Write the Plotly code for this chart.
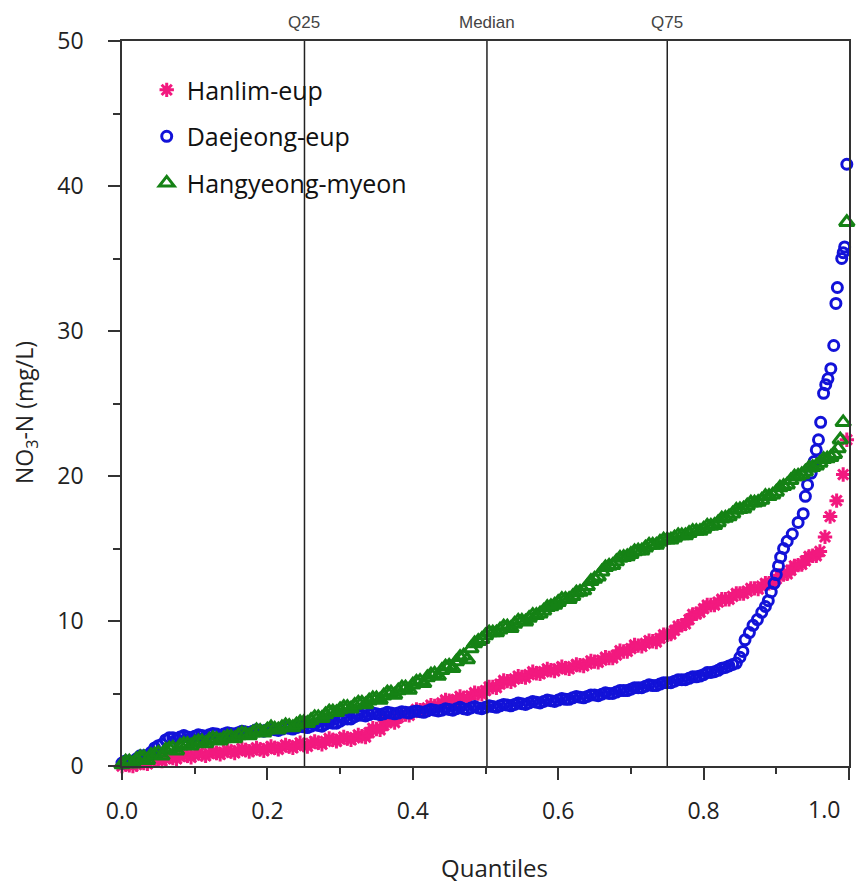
import plotly.graph_objects as go

# ---- data ----
quantiles = [0.00, 0.01, 0.02, 0.03, 0.04, 0.05, 0.06, 0.07, 0.08, 0.09,
             0.10, 0.11, 0.12, 0.13, 0.14, 0.15, 0.16, 0.17, 0.18, 0.19,
             0.20, 0.21, 0.22, 0.23, 0.24, 0.25, 0.26, 0.27, 0.28, 0.29,
             0.30, 0.31, 0.32, 0.33, 0.34, 0.35, 0.36, 0.37, 0.38, 0.39,
             0.40, 0.41, 0.42, 0.43, 0.44, 0.45, 0.46, 0.47, 0.48, 0.49,
             0.50, 0.51, 0.52, 0.53, 0.54, 0.55, 0.56, 0.57, 0.58, 0.59,
             0.60, 0.61, 0.62, 0.63, 0.64, 0.65, 0.66, 0.67, 0.68, 0.69,
             0.70, 0.71, 0.72, 0.73, 0.74, 0.75, 0.76, 0.77, 0.78, 0.79,
             0.80, 0.81, 0.82, 0.83, 0.84, 0.85, 0.86, 0.87, 0.88, 0.89,
             0.90, 0.91, 0.92, 0.93, 0.94, 0.95, 0.96, 0.97, 0.98]
quantiles_mid = [0.005, 0.015, 0.025, 0.035, 0.045, 0.055, 0.065, 0.075, 0.085, 0.095,
                 0.105, 0.115, 0.125, 0.135, 0.145, 0.155, 0.165, 0.175, 0.185, 0.195,
                 0.205, 0.215, 0.225, 0.235, 0.245, 0.255, 0.265, 0.275, 0.285, 0.295,
                 0.305, 0.315, 0.325, 0.335, 0.345, 0.355, 0.365, 0.375, 0.385, 0.395,
                 0.405, 0.415, 0.425, 0.435, 0.445, 0.455, 0.465, 0.475, 0.485, 0.495,
                 0.505, 0.515, 0.525, 0.535, 0.545, 0.555, 0.565, 0.575, 0.585, 0.595,
                 0.605, 0.615, 0.625, 0.635, 0.645, 0.655, 0.665, 0.675, 0.685, 0.695,
                 0.705, 0.715, 0.725, 0.735, 0.745, 0.755, 0.765, 0.775, 0.785, 0.795,
                 0.805, 0.815, 0.825, 0.835, 0.845, 0.855, 0.865, 0.875, 0.885, 0.895,
                 0.905, 0.915, 0.925, 0.935, 0.945, 0.955, 0.965, 0.975]

hanlim_body = [0.0, 0.05, 0.1, 0.2, 0.3, 0.4, 0.5, 0.55, 0.65, 0.7,
               0.75, 0.8, 0.85, 0.9, 0.95, 1.0, 1.05, 1.1, 1.1, 1.15,
               1.2, 1.25, 1.3, 1.35, 1.4, 1.45, 1.55, 1.6, 1.7, 1.8,
               1.85, 1.9, 1.95, 2.05, 2.3, 2.55, 2.8, 3.1, 3.35, 3.55,
               3.7, 3.85, 4.0, 4.15, 4.35, 4.5, 4.6, 4.7, 4.85, 5.0,
               5.2, 5.45, 5.65, 5.85, 6.0, 6.15, 6.3, 6.4, 6.5, 6.6,
               6.7, 6.75, 6.85, 6.95, 7.05, 7.2, 7.3, 7.45, 7.65, 7.9,
               8.1, 8.3, 8.45, 8.6, 8.8, 9.05, 9.35, 9.7, 10.1, 10.5,
               10.85, 11.1, 11.3, 11.5, 11.7, 11.9, 12.05, 12.25, 12.4, 12.6,
               12.9, 13.2, 13.5, 13.85, 14.15, 14.5, 14.8]
hanlim_mid = [0.1, 0.0, 0.25, 0.15, 0.45, 0.35, 0.65, 0.5, 0.8, 0.6,
              0.9, 0.7, 1.0, 0.8, 1.1, 0.9, 1.2, 1.0, 1.25, 1.05,
              1.35, 1.15, 1.45, 1.25, 1.6, 1.35, 1.7, 1.5, 1.9, 1.7,
              2.0, 1.8, 2.15, 2.0, 2.6, 2.5, 3.1, 3.0, 3.6, 3.5,
              3.9, 3.8, 4.2, 4.1, 4.55, 4.45, 4.8, 4.65, 5.05, 4.95,
              5.45, 5.4, 5.9, 5.8, 6.2, 6.1, 6.5, 6.35, 6.7, 6.55,
              6.85, 6.7, 7.0, 6.9, 7.25, 7.15, 7.5, 7.45, 7.95, 7.9,
              8.35, 8.25, 8.65, 8.55, 9.05, 9.1, 9.65, 9.8, 10.45, 10.6,
              11.1, 11.1, 11.5, 11.5, 11.9, 11.9, 12.25, 12.2, 12.6, 12.65,
              13.15, 13.25, 13.8, 13.9, 14.45, 14.5]
hanlim_tail_q = [0.967, 0.974, 0.983, 0.992, 0.997]
hanlim_tail = [15.8, 17.2, 18.3, 20.1, 22.5]

daejeong_body = [0.2, 0.35, 0.5, 0.7, 0.95, 1.4, 1.8, 1.95, 2.0, 2.0,
                 2.05, 2.1, 2.15, 2.2, 2.2, 2.25, 2.3, 2.35, 2.4, 2.45,
                 2.5, 2.5, 2.55, 2.6, 2.65, 2.7, 2.75, 2.8, 2.9, 2.95,
                 3.1, 3.25, 3.4, 3.5, 3.55, 3.6, 3.6, 3.65, 3.65, 3.7,
                 3.75, 3.75, 3.8, 3.85, 3.85, 3.9, 3.95, 3.95, 4.0, 4.0,
                 4.05, 4.1, 4.15, 4.2, 4.25, 4.3, 4.35, 4.4, 4.45, 4.5,
                 4.55, 4.6, 4.7, 4.75, 4.8, 4.9, 4.95, 5.0, 5.1, 5.2,
                 5.3, 5.4, 5.5, 5.55, 5.65, 5.75, 5.85, 5.95, 6.05, 6.15,
                 6.3, 6.45, 6.6, 6.8, 7.0]
daejeong_mid = [0.35, 0.3, 0.7, 0.7, 1.25, 1.5, 1.95, 1.85, 2.1, 1.95,
                2.15, 2.05, 2.25, 2.1, 2.3, 2.2, 2.4, 2.3, 2.5, 2.4,
                2.6, 2.45, 2.65, 2.55, 2.75, 2.65, 2.85, 2.75, 3.0, 2.95,
                3.25, 3.25, 3.5, 3.45, 3.65, 3.55, 3.7, 3.6, 3.75, 3.65,
                3.8, 3.7, 3.9, 3.8, 3.95, 3.85, 4.05, 3.9, 4.1, 3.95,
                4.15, 4.05, 4.25, 4.15, 4.35, 4.25, 4.45, 4.35, 4.55, 4.45,
                4.65, 4.6, 4.8, 4.7, 4.9, 4.85, 5.05, 5.0, 5.2, 5.2,
                5.4, 5.4, 5.6, 5.55, 5.75, 5.75, 5.95, 5.95, 6.15, 6.2,
                6.45, 6.5, 6.75, 6.9]
daejeong_tail_q = [0.845, 0.850, 0.854, 0.857, 0.863, 0.868, 0.874, 0.880, 0.885, 0.889,
                   0.893, 0.897, 0.900, 0.903, 0.906, 0.910, 0.915, 0.922, 0.930, 0.937,
                   0.940, 0.943, 0.948, 0.952, 0.955, 0.958, 0.961, 0.965, 0.968, 0.971,
                   0.975, 0.979, 0.982, 0.984, 0.990, 0.992, 0.994, 0.997]
daejeong_tail = [7.1, 7.5, 7.9, 8.7, 9.2, 9.7, 10.1, 10.6, 11.0, 11.4,
                 12.0, 12.6, 13.2, 13.8, 14.4, 15.0, 15.5, 16.0, 16.8, 17.4,
                 18.6, 19.4, 20.2, 21.0, 21.8, 22.5, 23.7, 25.7, 26.3, 26.7,
                 27.4, 29.0, 31.9, 33.0, 35.0, 35.4, 35.8, 41.5]

hangyeong_body = [0.1, 0.3, 0.45, 0.6, 0.75, 0.9, 1.1, 1.25, 1.4, 1.5,
                  1.6, 1.7, 1.8, 1.85, 1.9, 2.0, 2.1, 2.2, 2.3, 2.4,
                  2.5, 2.55, 2.65, 2.75, 2.85, 3.0, 3.15, 3.35, 3.55, 3.75,
                  3.9, 4.05, 4.2, 4.35, 4.5, 4.65, 4.85, 5.05, 5.2, 5.4,
                  5.6, 5.85, 6.1, 6.35, 6.6, 6.9, 7.2, 7.6, 8.1, 8.6,
                  9.0, 9.2, 9.4, 9.6, 9.8, 10.0, 10.2, 10.4, 10.7, 11.0,
                  11.3, 11.5, 11.7, 12.0, 12.4, 12.9, 13.4, 13.8, 14.1, 14.4,
                  14.6, 14.85, 15.05, 15.25, 15.45, 15.6, 15.75, 15.9, 16.05, 16.2,
                  16.35, 16.55, 16.8, 17.1, 17.4, 17.7, 17.95, 18.15, 18.35, 18.6,
                  18.9, 19.3, 19.7, 20.0, 20.3, 20.6, 20.9, 21.2, 21.5]
hangyeong_mid = [0.3, 0.15, 0.6, 0.4, 0.8, 0.7, 1.2, 1.05, 1.5, 1.4,
                 1.7, 1.55, 1.9, 1.75, 2.0, 1.9, 2.25, 2.1, 2.45, 2.3,
                 2.65, 2.5, 2.8, 2.65, 3.0, 2.95, 3.35, 3.3, 3.75, 3.7,
                 4.05, 3.95, 4.35, 4.25, 4.65, 4.55, 5.05, 4.9, 5.4, 5.25,
                 5.8, 5.7, 6.3, 6.2, 6.85, 6.75, 7.5, 7.35, 8.45, 8.75,
                 9.2, 9.2, 9.6, 9.5, 10.0, 9.95, 10.4, 10.5, 10.95, 11.1,
                 11.5, 11.5, 11.95, 12.1, 12.75, 13.05, 13.7, 13.85, 14.35, 14.45,
                 14.8, 14.85, 15.25, 15.25, 15.6, 15.6, 15.9, 15.9, 16.2, 16.2,
                 16.55, 16.6, 17.05, 17.2, 17.65, 17.75, 18.15, 18.2, 18.6, 18.7,
                 19.2, 19.4, 19.95, 20.1, 20.55, 20.7, 21.15, 21.3]
hangyeong_tail_q = [0.985, 0.988, 0.992, 0.997]
hangyeong_tail = [21.9, 22.5, 23.7, 37.5]

ref_lines = [0.251, 0.502, 0.750]
ref_labels = ["Q25", "Median", "Q75"]

x_ticks = [0.0, 0.2, 0.4, 0.6, 0.8, 1.0]
x_ticklabels = ["0.0", "0.2", "0.4", "0.6", "0.8", ""]
y_ticks = [0, 10, 20, 30, 40, 50]

# ---- figure ----
fig = go.Figure()

series = [
    ("Hanlim-eup", hanlim_body, hanlim_mid, hanlim_tail_q, hanlim_tail,
     "asterisk-open", "#F2197F", 12, 3),
    ("Daejeong-eup", daejeong_body, daejeong_mid, daejeong_tail_q, daejeong_tail,
     "circle-open", "#1212D8", 10, 3),
    ("Hangyeong-myeon", hangyeong_body, hangyeong_mid, hangyeong_tail_q, hangyeong_tail,
     "triangle-up-open", "#158215", 13, 3),
]
for name, body, mid, tq, tv, sym, col, size, lw in series:
    pts = sorted(zip(quantiles[:len(body)] + quantiles_mid[:len(mid)] + tq, body + mid + tv))
    xs = [p[0] for p in pts]
    ys = [p[1] for p in pts]
    fig.add_trace(go.Scatter(
        x=xs, y=ys, mode="markers", name=name, legendgroup=name,
        cliponaxis=False,
        marker=dict(symbol=sym, size=size, color=col,
                    line=dict(color=col, width=lw)),
    ))

for q, lab in zip(ref_lines, ref_labels):
    fig.add_shape(type="line", x0=q, x1=q, y0=0, y1=1, xref="x", yref="paper",
                  line=dict(color="#222222", width=1.5), layer="above")
    fig.add_annotation(x=q, y=1, xref="x", yref="paper", text=lab, showarrow=False,
                       yanchor="middle", yshift=19,
                       font=dict(family="Liberation Sans, Arial", size=17, color="#444444"))

fig.add_annotation(x=0.990, y=0, xref="paper", yref="paper", text="1.0",
                   showarrow=False, yanchor="middle", yshift=-43,
                   font=dict(family="Open Sans", size=23, color="#222222"))
fig.add_annotation(x=0.513, y=-0.140, xref="paper", yref="paper", text="Quantiles",
                   showarrow=False, yanchor="middle",
                   font=dict(family="Open Sans", size=24, color="#222222"))
fig.add_annotation(x=-0.132, y=0.487, xref="paper", yref="paper",
                   text="NO<sub>3</sub>-N (mg/L)", textangle=-90,
                   showarrow=False, xanchor="center", yanchor="middle",
                   font=dict(family="Open Sans", size=23, color="#222222"))

axis_common = dict(showgrid=False, zeroline=False, showline=True, mirror=True,
                   linecolor="#333333", linewidth=1.5, ticks="outside",
                   tickcolor="#333333", tickwidth=1.5, ticklen=12,
                   tickfont=dict(family="Open Sans", size=23, color="#222222"))

fig.update_xaxes(range=[0, 1], tickvals=x_ticks, ticktext=x_ticklabels,
                 ticklabelstandoff=12,
                 minor=dict(tickvals=[0.1, 0.3, 0.5, 0.7, 0.9], ticklen=6,
                            tickcolor="#333333", tickwidth=1.5, ticks="outside"),
                 **axis_common)
fig.update_yaxes(range=[0, 50], tickvals=y_ticks,
                 ticklabelstandoff=20,
                 minor=dict(tickvals=[5, 15, 25, 35, 45], ticklen=7,
                            tickcolor="#333333", tickwidth=1.5, ticks="outside"),
                 **axis_common)

fig.update_layout(
    width=862, height=886,
    margin=dict(l=122, r=13, t=41, b=120),
    paper_bgcolor="white", plot_bgcolor="white",
    showlegend=True,
    legend=dict(x=0.034, y=0.964, xanchor="left", yanchor="top",
                bgcolor="rgba(0,0,0,0)", tracegroupgap=11,
                itemsizing="trace",
                font=dict(family="Open Sans", size=25, color="#111111")),
)

fig.write_html("out.html")
